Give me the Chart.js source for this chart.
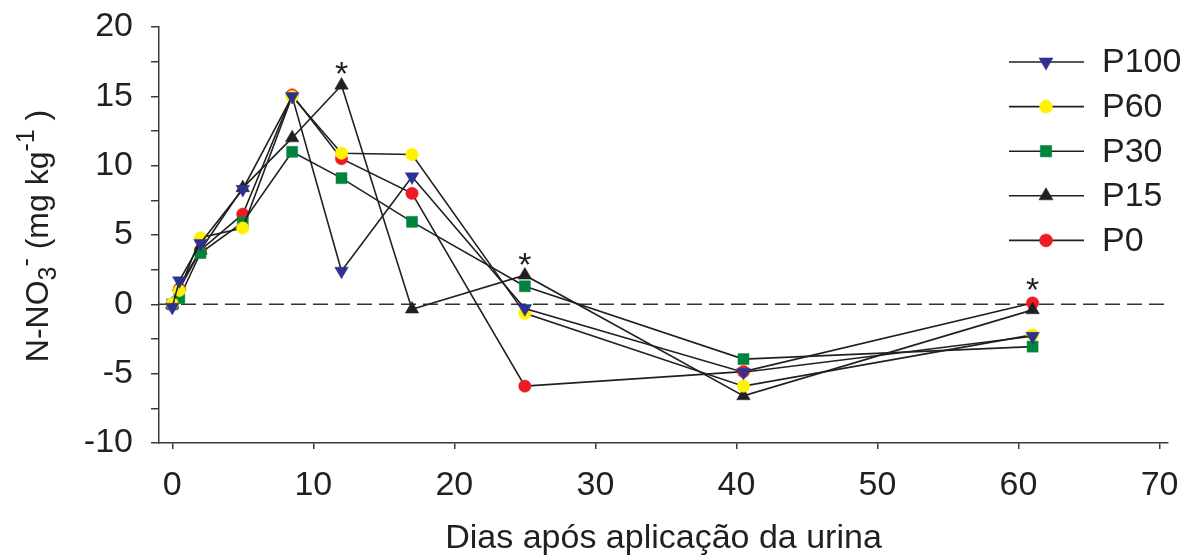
<!DOCTYPE html>
<html>
<head>
<meta charset="utf-8">
<script src="https://cdn.jsdelivr.net/npm/chart.js@4/dist/chart.umd.min.js"></script>
<style>
  html, body { margin: 0; padding: 0; background: #fff; }
  #wrap { width: 1190px; height: 559px; }
</style>
</head>
<body>
<div id="wrap"><canvas id="chart" width="1190" height="559"></canvas></div>
<script>
// days after urine application
const days = [0, 0.5, 2, 5, 8.5, 12, 17, 25, 40.5, 61];

// N-NO3- (mg kg-1) per treatment
const p100 = [-0.2, 1.7, 4.4, 8.3, 15.0, 2.4, 9.2, -0.3, -4.9, -2.3];
const p60 = [0.05, 1.0, 4.8, 5.5, 15.0, 10.9, 10.8, -0.65, -5.9, -2.2];
const p30 = [0.0, 0.45, 3.7, 5.9, 11.0, 9.1, 5.95, 1.3, -3.95, -3.05];
const p15 = [0.0, 1.3, 3.9, 8.4, 12.0, 15.8, -0.35, 2.1, -6.6, -0.4];
const p0 = [0.0, 1.1, 3.9, 6.5, 15.1, 10.5, 8.0, -5.9, -4.85, 0.1];

// significance marks (*)
const starDays = [12, 25, 61];
const starValues = [17.2, 3.45, 1.65];

// axis ticks
const xTicks = [0, 10, 20, 30, 40, 50, 60, 70];
const yTicks = [-10, -7.5, -5, -2.5, 0, 2.5, 5, 7.5, 10, 12.5, 15, 17.5, 20];

const INK = "#231f20";
const AXIS = "#3a3a3a";
const FONT = "'Liberation Sans', Arial, sans-serif";
const SIZE = 34;

const toPoints = (vals) => days.map((d, i) => ({ x: d, y: vals[i] }));

function makeSet(label, vals, style, color, radius, rotation) {
  return {
    label: label,
    data: toPoints(vals),
    borderColor: INK,
    borderWidth: 1.6,
    tension: 0,
    fill: false,
    pointStyle: style,
    pointRotation: rotation || 0,
    pointRadius: radius,
    pointBackgroundColor: color,
    pointBorderColor: color,
    pointBorderWidth: 0.5,
  };
}

const datasets = [
  makeSet("P100", p100, "triangle", "#2e3192", 7.8, 180),
  makeSet("P60", p60, "circle", "#fff200", 6.2),
  makeSet("P30", p30, "rect", "#00843d", 7.8),
  makeSet("P15", p15, "triangle", INK, 7.8),
  makeSet("P0", p0, "circle", "#ed1c24", 6.2),
];

// dashed zero line under the series
const zeroLine = {
  id: "zeroLine",
  beforeDatasetsDraw(chart) {
    const { ctx, chartArea, scales } = chart;
    const y = scales.y.getPixelForValue(0);
    ctx.save();
    ctx.strokeStyle = "#333";
    ctx.lineWidth = 1.5;
    ctx.setLineDash([15, 7]);
    ctx.beginPath();
    ctx.moveTo(chartArea.left, y);
    ctx.lineTo(chartArea.right, y);
    ctx.stroke();
    ctx.restore();
  },
};

// asterisks, y axis title with sub/superscripts, line+marker legend
const extras = {
  id: "extras",
  afterDraw(chart) {
    const { ctx, scales } = chart;
    ctx.save();
    ctx.fillStyle = INK;

    // asterisks
    ctx.font = "34px " + FONT;
    ctx.textAlign = "center";
    ctx.textBaseline = "alphabetic";
    starDays.forEach((d, i) => {
      const x = scales.x.getPixelForValue(d);
      const y = scales.y.getPixelForValue(starValues[i]);
      ctx.fillText("*", x, y + 0.57 * 34);
    });

    // y title
    const size = 32;
    const small = 25;
    const parts = [
      { t: "N-NO", f: size, dy: 0 },
      { t: "3", f: small, dy: 8 },
      { t: "-", f: small, dy: -14 },
      { t: " (mg kg", f: size, dy: 0 },
      { t: "-1", f: small, dy: -14 },
      { t: " )", f: size, dy: 0 },
    ];
    let total = 0;
    parts.forEach((p) => {
      ctx.font = p.f + "px " + FONT;
      p.w = ctx.measureText(p.t).width;
      total += p.w;
    });
    ctx.save();
    ctx.translate(48, 236);
    ctx.rotate(-Math.PI / 2);
    ctx.textAlign = "left";
    let cx = -total / 2;
    parts.forEach((p) => {
      ctx.font = p.f + "px " + FONT;
      ctx.fillText(p.t, cx, p.dy);
      cx += p.w;
    });
    ctx.restore();

    // legend
    ctx.textAlign = "left";
    ctx.textBaseline = "middle";
    ctx.font = SIZE + "px " + FONT;
    chart.data.datasets.forEach((ds, i) => {
      const y = 62 + i * 44.6;
      ctx.strokeStyle = INK;
      ctx.lineWidth = 1.6;
      ctx.beginPath();
      ctx.moveTo(1009, y);
      ctx.lineTo(1084, y);
      ctx.stroke();
      ctx.fillStyle = ds.pointBackgroundColor;
      ctx.strokeStyle = ds.pointBorderColor;
      ctx.lineWidth = 0.5;
      Chart.helpers.drawPoint(
        ctx,
        { pointStyle: ds.pointStyle, rotation: ds.pointRotation, radius: ds.pointRadius + 0.3, borderWidth: 0.5 },
        1046,
        y
      );
      ctx.fillStyle = INK;
      ctx.fillText(ds.label, 1102, y + 1);
    });
    ctx.restore();
  },
};

new Chart(document.getElementById("chart"), {
  type: "line",
  data: { datasets: datasets },
  plugins: [zeroLine, extras],
  options: {
    responsive: false,
    animation: false,
    events: [],
    layout: { padding: { left: 0, right: 22, top: 27, bottom: 0 } },
    plugins: {
      legend: { display: false },
      tooltip: { enabled: false },
    },
    scales: {
      x: {
        type: "linear",
        min: -0.94,
        max: 70.6,
        afterBuildTicks: (scale) => {
          scale.ticks = xTicks.map((v) => ({ value: v }));
        },
        afterFit: (scale) => {
          scale.height = 116;
          scale.paddingLeft = 0;
          scale.paddingRight = 0;
        },
        ticks: {
          color: INK,
          font: { family: FONT, size: SIZE },
          padding: 16,
          maxRotation: 0,
          autoSkip: false,
        },
        grid: {
          drawOnChartArea: false,
          drawTicks: true,
          tickLength: 6,
          color: AXIS,
          lineWidth: 1.5,
        },
        border: { display: true, color: AXIS, width: 1.5 },
        title: {
          display: true,
          text: "Dias após aplicação da urina",
          color: INK,
          font: { family: FONT, size: SIZE },
          padding: { top: 0, bottom: 0 },
        },
      },
      y: {
        min: -10,
        max: 20,
        afterBuildTicks: (scale) => {
          scale.ticks = yTicks.map((v) => ({ value: v }));
        },
        afterFit: (scale) => {
          scale.width = 159;
          scale.paddingTop = 0;
          scale.paddingBottom = 0;
        },
        ticks: {
          color: INK,
          font: { family: FONT, size: SIZE },
          padding: 18,
          autoSkip: false,
          callback: (v) => (v % 5 === 0 ? String(v) : ""),
        },
        grid: {
          drawOnChartArea: false,
          drawTicks: true,
          tickLength: 8,
          color: AXIS,
          lineWidth: 1.5,
        },
        border: { display: true, color: AXIS, width: 1.5 },
      },
    },
  },
});
</script>
</body>
</html>
